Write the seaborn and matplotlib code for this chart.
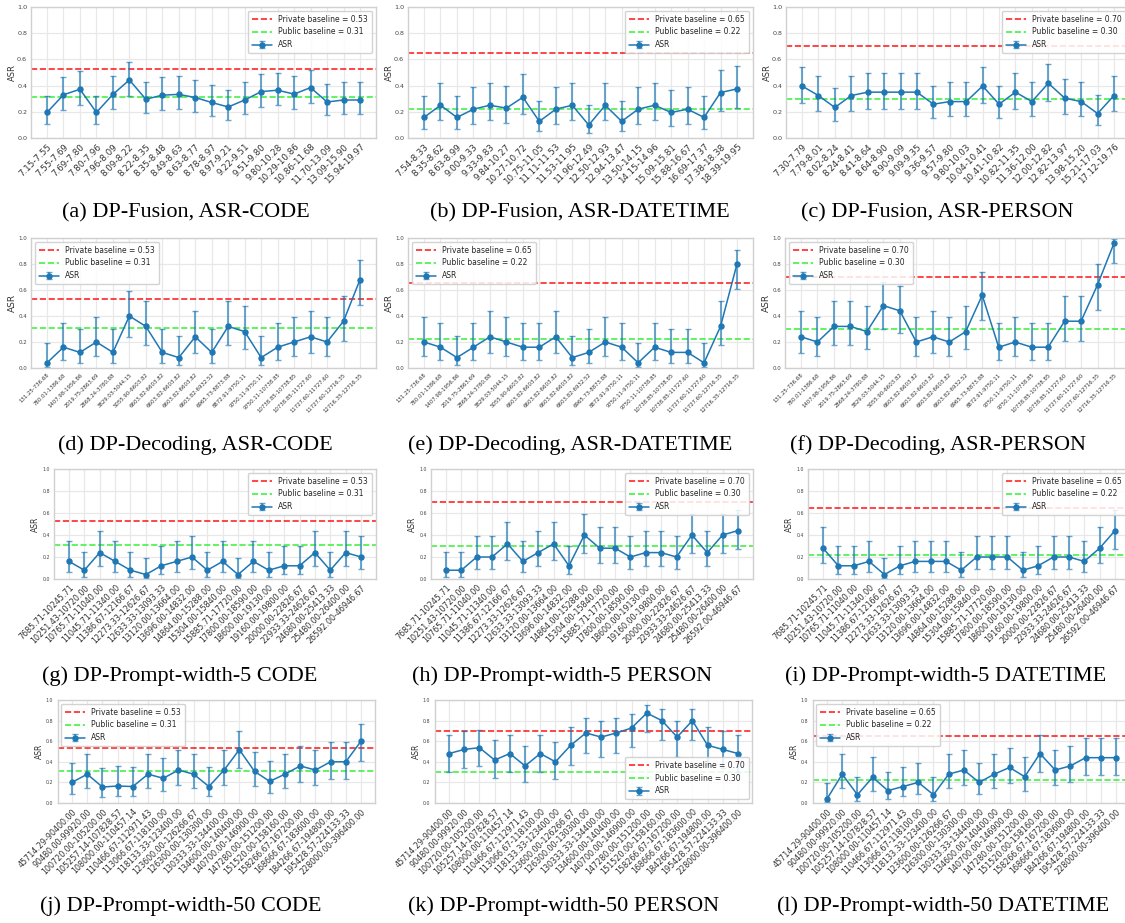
import matplotlib
matplotlib.use("Agg")
import matplotlib.pyplot as plt
import numpy as np
import seaborn as sns

# ---- bin labels -------------------------------------------------------------
FUSION_CODE_BINS = ["7.15-7.55", "7.55-7.69", "7.69-7.80", "7.80-7.96", "7.96-8.09", "8.09-8.22",
                    "8.22-8.35", "8.35-8.48", "8.49-8.63", "8.63-8.77", "8.78-8.97", "8.97-9.21",
                    "9.22-9.51", "9.51-9.80", "9.80-10.28", "10.29-10.86", "10.86-11.68",
                    "11.70-13.09", "13.09-15.90", "15.94-19.97"]
FUSION_DATETIME_BINS = ["7.54-8.33", "8.35-8.62", "8.63-8.99", "9.00-9.33", "9.33-9.83", "9.84-10.27",
                        "10.27-10.72", "10.75-11.05", "11.11-11.53", "11.53-11.95", "11.96-12.49",
                        "12.50-12.93", "12.94-13.47", "13.50-14.15", "14.15-14.96", "15.09-15.81",
                        "15.88-16.67", "16.69-17.37", "17.38-18.38", "18.39-19.95"]
FUSION_PERSON_BINS = ["7.30-7.79", "7.79-8.01", "8.02-8.24", "8.24-8.41", "8.41-8.64", "8.64-8.90",
                      "8.90-9.09", "9.09-9.35", "9.36-9.57", "9.57-9.80", "9.80-10.03", "10.04-10.41",
                      "10.41-10.82", "10.82-11.35", "11.36-12.00", "12.00-12.82", "12.82-13.97",
                      "13.98-15.20", "15.21-17.03", "17.12-19.76"]
DECODING_BINS = ["131.25-736.68", "780.01-1386.68", "1407.98-1956.86", "2019.75-2863.69",
                 "2868.24-3780.88", "3829.03-5044.15", "5055.90-6603.82", "6603.82-6603.82",
                 "6603.82-6603.82", "6603.82-6603.82", "6603.82-6932.52", "6965.73-8873.88",
                 "8872.91-9750.11", "9750.11-9750.11", "9750.11-10738.85", "10738.85-10738.85",
                 "10738.85-11727.60", "11727.60-11727.60", "11727.60-12716.35", "12716.35-12716.35"]
PROMPT5_BINS = ["7685.71-10245.71", "10251.43-10720.00", "10765.71-11040.00", "11045.71-11340.00",
                "11386.67-12166.67", "12273.33-12626.67", "12633.33-13093.33", "13120.00-13664.00",
                "13696.00-14832.00", "14864.00-15288.00", "15304.00-15840.00", "15885.71-17720.00",
                "17800.00-18590.00", "18600.00-19130.00", "19160.00-19800.00", "20000.00-22826.67",
                "22933.33-24626.67", "24680.00-25413.33", "25480.00-26400.00", "26592.00-46946.67"]
PROMPT50_BINS = ["45714.29-90400.00", "90480.00-99920.00", "100720.00-105200.00",
                 "105257.14-107828.57", "108000.00-110457.14", "110466.67-112971.43",
                 "113066.67-118100.00", "118133.33-123400.00", "123600.00-126266.67",
                 "126300.00-130300.00", "130333.33-134400.00", "134600.00-140400.00",
                 "140700.00-146900.00", "147280.00-151200.00", "151520.00-158160.00",
                 "158266.67-167200.00", "168666.67-183600.00", "184266.67-194800.00",
                 "195428.57-224133.33", "228000.00-396400.00"]

# ---- ASR values (row 1 with explicit interval bounds) -----------------------
ASR_A = [0.195, 0.33, 0.372, 0.195, 0.333, 0.443, 0.296, 0.327, 0.333, 0.309,
         0.271, 0.237, 0.29, 0.354, 0.365, 0.335, 0.385, 0.275, 0.29, 0.29]
LO_A = [0.108, 0.215, 0.255, 0.108, 0.22, 0.318, 0.19, 0.215, 0.22, 0.2,
        0.168, 0.14, 0.185, 0.237, 0.25, 0.22, 0.266, 0.172, 0.185, 0.185]
HI_A = [0.32, 0.463, 0.51, 0.32, 0.47, 0.577, 0.43, 0.463, 0.47, 0.443,
        0.403, 0.368, 0.425, 0.49, 0.5, 0.47, 0.52, 0.41, 0.425, 0.425]

ASR_B = [0.157, 0.25, 0.157, 0.22, 0.25, 0.228, 0.311, 0.127, 0.22, 0.25,
         0.099, 0.25, 0.127, 0.22, 0.25, 0.195, 0.22, 0.157, 0.347, 0.375]
LO_B = [0.07, 0.135, 0.07, 0.11, 0.135, 0.115, 0.18, 0.05, 0.11, 0.135,
        0.035, 0.135, 0.05, 0.11, 0.135, 0.09, 0.11, 0.07, 0.205, 0.23]
HI_B = [0.32, 0.42, 0.32, 0.39, 0.42, 0.40, 0.487, 0.28, 0.39, 0.42,
        0.25, 0.42, 0.28, 0.39, 0.42, 0.365, 0.39, 0.32, 0.52, 0.55]

ASR_C = [0.397, 0.324, 0.233, 0.324, 0.35, 0.35, 0.35, 0.35, 0.258, 0.278,
         0.278, 0.397, 0.258, 0.35, 0.278, 0.418, 0.304, 0.278, 0.187, 0.324]
LO_C = [0.265, 0.205, 0.13, 0.205, 0.225, 0.225, 0.225, 0.225, 0.15, 0.17,
        0.17, 0.265, 0.15, 0.225, 0.17, 0.285, 0.185, 0.17, 0.10, 0.205]
HI_C = [0.545, 0.475, 0.38, 0.475, 0.50, 0.50, 0.50, 0.50, 0.40, 0.43,
        0.43, 0.545, 0.40, 0.50, 0.43, 0.565, 0.45, 0.43, 0.325, 0.475]

ASR_D = [0.04, 0.16, 0.12, 0.20, 0.12, 0.40, 0.32, 0.12, 0.08, 0.24,
         0.12, 0.32, 0.28, 0.08, 0.16, 0.20, 0.24, 0.20, 0.36, 0.68]
ASR_E = [0.20, 0.16, 0.08, 0.16, 0.24, 0.20, 0.16, 0.16, 0.24, 0.08,
         0.12, 0.20, 0.16, 0.04, 0.16, 0.12, 0.12, 0.04, 0.32, 0.80]
ASR_F = [0.24, 0.20, 0.32, 0.32, 0.28, 0.48, 0.44, 0.20, 0.24, 0.20,
         0.28, 0.56, 0.16, 0.20, 0.16, 0.16, 0.36, 0.36, 0.64, 0.96]
ASR_G = [0.16, 0.08, 0.24, 0.16, 0.08, 0.04, 0.12, 0.16, 0.20, 0.08,
         0.16, 0.04, 0.16, 0.08, 0.12, 0.12, 0.24, 0.08, 0.24, 0.20]
ASR_H = [0.08, 0.08, 0.20, 0.20, 0.32, 0.16, 0.24, 0.32, 0.12, 0.40,
         0.28, 0.28, 0.20, 0.24, 0.24, 0.20, 0.40, 0.24, 0.40, 0.44]
ASR_I = [0.28, 0.12, 0.12, 0.16, 0.04, 0.12, 0.16, 0.16, 0.16, 0.08,
         0.20, 0.20, 0.20, 0.08, 0.12, 0.20, 0.20, 0.16, 0.28, 0.44]
ASR_J = [0.20, 0.28, 0.155, 0.165, 0.16, 0.28, 0.24, 0.32, 0.28, 0.16,
         0.32, 0.518, 0.307, 0.21, 0.28, 0.36, 0.32, 0.40, 0.40, 0.60]
ASR_K = [0.48, 0.52, 0.537, 0.417, 0.48, 0.36, 0.48, 0.40, 0.56, 0.68,
         0.64, 0.68, 0.728, 0.873, 0.80, 0.64, 0.80, 0.56, 0.52, 0.48]
ASR_L = [0.04, 0.28, 0.08, 0.25, 0.12, 0.16, 0.20, 0.08, 0.28, 0.32,
         0.20, 0.28, 0.345, 0.255, 0.48, 0.32, 0.36, 0.44, 0.44, 0.44]

BOUNDS = {
    0.04: (0.008, 0.195), 0.08: (0.022, 0.25), 0.12: (0.042, 0.30), 0.155: (0.06, 0.335),
    0.16: (0.065, 0.345), 0.165: (0.065, 0.355), 0.20: (0.09, 0.39), 0.21: (0.095, 0.405),
    0.24: (0.115, 0.435), 0.25: (0.12, 0.45), 0.255: (0.12, 0.45), 0.28: (0.145, 0.475),
    0.307: (0.165, 0.50), 0.32: (0.175, 0.515), 0.345: (0.195, 0.535), 0.36: (0.205, 0.555),
    0.40: (0.235, 0.59), 0.417: (0.245, 0.61), 0.44: (0.27, 0.63), 0.48: (0.30, 0.665),
    0.518: (0.335, 0.70), 0.52: (0.335, 0.70), 0.537: (0.355, 0.71), 0.56: (0.37, 0.735),
    0.60: (0.405, 0.765), 0.64: (0.445, 0.80), 0.68: (0.485, 0.83), 0.728: (0.54, 0.862),
    0.80: (0.61, 0.91), 0.873: (0.69, 0.955), 0.96: (0.805, 0.99),
}

PRIVATE = [0.53, 0.65, 0.70, 0.53, 0.65, 0.70, 0.53, 0.70, 0.65, 0.53, 0.70, 0.65]
PUBLIC = [0.31, 0.22, 0.30, 0.31, 0.22, 0.30, 0.31, 0.30, 0.22, 0.31, 0.30, 0.22]

CAPTIONS = ["(a) DP-Fusion, ASR-CODE", "(b) DP-Fusion, ASR-DATETIME", "(c) DP-Fusion, ASR-PERSON",
            "(d) DP-Decoding, ASR-CODE", "(e) DP-Decoding, ASR-DATETIME", "(f) DP-Decoding, ASR-PERSON",
            "(g) DP-Prompt-width-5 CODE", "(h) DP-Prompt-width-5 PERSON", "(i) DP-Prompt-width-5 DATETIME",
            "(j) DP-Prompt-width-50 CODE", "(k) DP-Prompt-width-50 PERSON", "(l) DP-Prompt-width-50 DATETIME"]


def bounds_of(values):
    lo = [BOUNDS[v][0] for v in values]
    hi = [BOUNDS[v][1] for v in values]
    return lo, hi


# layout in pixels: first tick x, last tick x, axes top, axes bottom
W, H = 1125, 923
BOXES = [(47, 360, 7, 138), (424, 737, 7, 138), (802, 1114, 7, 138),
         (47, 360, 238, 368), (424, 737, 238, 368), (801, 1114, 238, 368),
         (69, 361, 469, 579), (446, 738, 469, 579), (823, 1115, 469, 579),
         (72, 361, 700, 803), (449, 738, 700, 803), (827, 1116, 700, 803)]
CAPTION_POS = [(186, 213), (580, 213), (937, 213),
               (195, 445), (570, 445), (938, 445),
               (180, 676), (562, 676), (946, 676),
               (181, 906), (564, 906), (943, 906)]
LEGEND_LOC = ["upper right", "upper right", "upper right",
              "upper left", "upper left", "upper left",
              "upper right", "upper right", "upper right",
              "upper left", "lower right", "upper left"]
# per row: x tick size, y tick size, ylabel size
ROW_FONTS = [(6.3, 4.6, 6.0), (3.9, 4.0, 6.5), (5.8, 3.4, 5.5), (5.8, 3.4, 5.5)]

sns.set_theme(style="whitegrid", rc={
    "grid.color": "#e8e8e8",
    "axes.edgecolor": "#d0d0d0",
    "axes.linewidth": 1.0,
    "grid.linewidth": 0.9,
})
plt.rcParams["font.family"] = ["DejaVu Sans"]

fig = plt.figure(figsize=(W / 100, H / 100), dpi=100)

series = [
    (FUSION_CODE_BINS, ASR_A, LO_A, HI_A),
    (FUSION_DATETIME_BINS, ASR_B, LO_B, HI_B),
    (FUSION_PERSON_BINS, ASR_C, LO_C, HI_C),
    (DECODING_BINS, ASR_D) + bounds_of(ASR_D),
    (DECODING_BINS, ASR_E) + bounds_of(ASR_E),
    (DECODING_BINS, ASR_F) + bounds_of(ASR_F),
    (PROMPT5_BINS, ASR_G) + bounds_of(ASR_G),
    (PROMPT5_BINS, ASR_H) + bounds_of(ASR_H),
    (PROMPT5_BINS, ASR_I) + bounds_of(ASR_I),
    (PROMPT50_BINS, ASR_J) + bounds_of(ASR_J),
    (PROMPT50_BINS, ASR_K) + bounds_of(ASR_K),
    (PROMPT50_BINS, ASR_L) + bounds_of(ASR_L),
]

blue = "#1f77b4"
for i, (bins, asr, lo, hi) in enumerate(series):
    first, last, top, bottom = BOXES[i]
    n = len(bins)
    step = (last - first) / (n - 1)
    left = first - 0.95 * step
    right = last + 0.95 * step
    ax = fig.add_axes([left / W, 1 - bottom / H, (right - left) / W, (bottom - top) / H])

    x = np.arange(n)
    y = np.array(asr)
    yerr = [y - np.array(lo), np.array(hi) - y]

    ax.axhline(PRIVATE[i], color="red", ls="--", lw=1.2, alpha=0.85,
               label=f"Private baseline = {PRIVATE[i]:.2f}")
    ax.axhline(PUBLIC[i], color="#33ee33", ls="--", lw=1.2, alpha=0.9,
               label=f"Public baseline = {PUBLIC[i]:.2f}")
    ax.errorbar(x, y, yerr=yerr, fmt="-o", color=blue, ms=3.6, lw=1.1,
                ecolor=(0.12, 0.47, 0.71, 0.65), elinewidth=1.5, capsize=2.5, capthick=1.0,
                label="ASR")

    ax.set_xlim(-0.95, n - 1 + 0.95)
    ax.set_ylim(0, 1.0)
    ax.set_yticks(np.arange(0, 1.01, 0.2))
    ax.set_xticks(x)

    xfs, yfs, lfs = ROW_FONTS[i // 3]
    ax.set_xticklabels(bins, rotation=45, ha="right", rotation_mode="anchor",
                       fontsize=xfs, color="#333333")
    ax.tick_params(axis="both", length=0)
    ax.tick_params(axis="y", labelsize=yfs, labelcolor="#444444", pad=3)
    ax.tick_params(axis="x", pad=3)
    ax.set_ylabel("ASR", fontsize=lfs, color="#333333")
    ax.yaxis.set_label_coords(-14 / (right - left), 0.5)
    ax.set_xlabel("")

    leg = ax.legend(loc=LEGEND_LOC[i], fontsize=5.5, frameon=True, framealpha=0.85,
                    borderpad=0.5, handlelength=2.6)
    leg.get_frame().set_edgecolor("#cccccc")

    cx, cy = CAPTION_POS[i]
    fig.text(cx / W, 1 - cy / H, CAPTIONS[i], ha="center", va="center",
             fontsize=16, family=["Liberation Serif", "DejaVu Serif"], color="black")

fig.savefig("out.png", dpi=100)
